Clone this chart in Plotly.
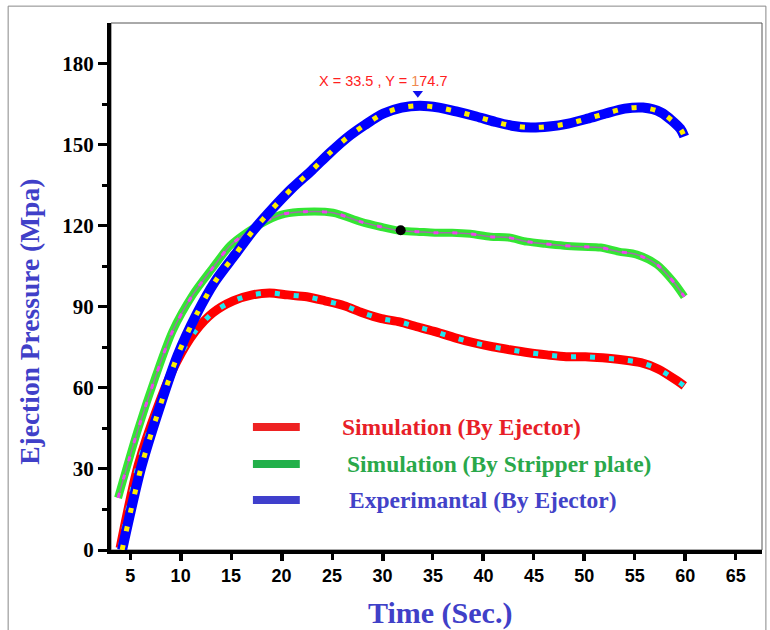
import plotly.graph_objects as go

# ---------------- data ----------------
time_red = [4.0, 5.8, 7.8, 9.6, 11.4, 13.2, 15.2, 17.1, 18.8, 20.6, 22.5, 24.3, 26.2, 28.0,
            29.9, 31.7, 33.4, 35.3, 37.2, 39.0, 40.9, 42.6, 44.5, 46.3, 48.2, 50.1, 51.8,
            53.7, 55.6, 57.3, 59.2, 59.9]
sim_ejector = [0.7, 31.5, 53.7, 69.6, 80.7, 87.8, 92.2, 94.4, 95.1, 94.4, 93.7, 92.2, 90.4,
               87.8, 85.6, 84.4, 82.6, 80.7, 78.5, 76.7, 75.2, 74.1, 73.0, 72.2, 71.5, 71.5,
               71.1, 70.4, 69.3, 67.0, 62.6, 60.7]

time_green = [3.8, 5.7, 7.5, 9.2, 11.2, 13.1, 14.9, 16.7, 18.6, 20.3, 22.3, 25.1, 27.8, 29.8,
              31.7, 33.4, 35.2, 36.9, 38.7, 40.7, 42.5, 44.3, 46.1, 48.0, 49.8, 51.6, 53.4,
              55.2, 57.2, 58.9, 59.9]
sim_stripper = [19.3, 43.7, 64.0, 81.0, 94.4, 104.0, 112.6, 117.8, 122.0, 124.4, 125.2, 124.8,
                121.5, 119.6, 118.1, 117.8, 117.4, 117.4, 117.0, 115.9, 115.6, 114.1, 113.3,
                112.6, 112.2, 111.9, 110.4, 109.3, 105.6, 98.9, 93.7]

time_blue = [4.2, 6.1, 8.0, 9.7, 11.6, 13.4, 15.4, 17.1, 19.1, 21.0, 23.0, 24.8, 26.5, 28.3,
             30.1, 31.9, 33.7, 35.6, 37.4, 39.3, 41.1, 42.8, 44.7, 46.5, 48.4, 50.3, 52.1,
             54.0, 55.8, 57.6, 59.5, 59.9]
exp_ejector = [0.0, 30.7, 53.7, 72.0, 87.4, 99.3, 109.3, 117.8, 126.3, 133.7, 140.5, 147.0,
               152.6, 157.4, 161.5, 163.7, 164.4, 163.7, 162.2, 160.4, 158.5, 157.0, 156.3,
               156.7, 157.8, 159.6, 161.5, 163.3, 163.7, 161.9, 155.9, 153.0]

marker_x = [31.8]
marker_y = [118.3]
arrow_x = [33.5]
arrow_y = [169.0]

x_ticks = [5, 10, 15, 20, 25, 30, 35, 40, 45, 50, 55, 60, 65]
x_major = [10, 20, 30, 40, 50, 60]
y_ticks = [0, 30, 60, 90, 120, 150, 180]

legend_names = ["Simulation (By Ejector)", "Simulation (By Stripper plate)",
                "Experimantal (By Ejector)"]

# ---------------- figure ----------------
fig = go.Figure()

def add_curve(x, y, base_col, base_w, dot_col, dot_w, inner_col=None):
    fig.add_trace(go.Scatter(x=x, y=y, mode="lines", line=dict(color=base_col, width=base_w,
                  shape="spline", smoothing=0.8), hoverinfo="skip", showlegend=False))
    if inner_col:
        fig.add_trace(go.Scatter(x=x, y=y, mode="lines", line=dict(color=inner_col, width=1.5,
                      shape="spline", smoothing=0.8), hoverinfo="skip", showlegend=False))
    fig.add_trace(go.Scatter(x=x, y=y, mode="lines", line=dict(color=dot_col, width=dot_w,
                  shape="spline", smoothing=0.8, dash="5px,14px"), hoverinfo="skip",
                  showlegend=False))

add_curve(time_red, sim_ejector, "#ff0000", 9, "#22e6ee", 5)
add_curve(time_green, sim_stripper, "#33e633", 8, "#ee44ee", 3, inner_col="#a070a8")
add_curve(time_blue, exp_ejector, "#0000ff", 10, "#ffee00", 5)

fig.add_trace(go.Scatter(x=marker_x, y=marker_y, mode="markers",
                         marker=dict(color="black", size=10, symbol="circle"),
                         hoverinfo="skip", showlegend=False))
fig.add_trace(go.Scatter(x=arrow_x, y=arrow_y, mode="markers",
                         marker=dict(color="#1010ee", size=9, symbol="triangle-down"),
                         hoverinfo="skip", showlegend=False))
# invisible trace for the secondary (major tick) axis
fig.add_trace(go.Scatter(x=[x_ticks[0]], y=[0], xaxis="x2", mode="markers",
                         marker=dict(opacity=0), hoverinfo="skip", showlegend=False))

# annotation
fig.add_annotation(x=30.1, y=173.5, xref="x", yref="y", showarrow=False,
                   text="X = 33.5 , Y = <span style='color:#f08a50'>1</span>74.7",
                   font=dict(family="Liberation Sans Narrow, Arial Narrow, Liberation Sans",
                             size=14.5, color="#ff2020"))

serif = "Liberation Serif, Times New Roman, serif"

# legend (manual)
l_cols = ["#ee2222", "#22b04a", "#3f3fcc"]
t_cols = ["#e81e28", "#2aa84a", "#4242c8"]
l_y = [0.2334, 0.1632, 0.0949]
t_x = [0.352, 0.359, 0.3625]
for name, lc, tc, yy, tx in zip(legend_names, l_cols, t_cols, l_y, t_x):
    fig.add_shape(type="line", xref="paper", yref="paper", x0=0.218, x1=0.290, y0=yy, y1=yy,
                  line=dict(color=lc, width=8))
    fig.add_annotation(xref="paper", yref="paper", x=tx, y=yy, xanchor="left",
                       yanchor="middle", showarrow=False, text="<b>%s</b>" % name,
                       font=dict(family=serif, size=23.5, color=tc))

# axis titles
fig.add_annotation(xref="paper", yref="paper", x=0.5055, y=-0.119, xanchor="center",
                   yanchor="middle", showarrow=False, text="<b>Time (Sec.)</b>",
                   font=dict(family=serif, size=30, color="#4040c8"))
fig.add_annotation(xref="paper", yref="paper", x=-0.1244, y=0.433, xanchor="center",
                   yanchor="middle", showarrow=False, textangle=-90,
                   text="<b>Ejection Pressure (Mpa)</b>",
                   font=dict(family=serif, size=27.5, color="#4040c8"))

# frame and outer border
fig.add_shape(type="rect", xref="paper", yref="paper", x0=0, x1=1, y0=0, y1=1,
              line=dict(color="#555555", width=1), layer="below")
fig.add_shape(type="rect", xref="paper", yref="paper", x0=-0.158, x1=1.006, y0=-0.2, y1=1.032,
              line=dict(color="#888888", width=1), layer="below")

fig.update_layout(
    width=770, height=630,
    margin=dict(l=111, r=8, t=23, b=80),
    paper_bgcolor="white", plot_bgcolor="white",
    showlegend=False,
    xaxis=dict(range=[3.1, 67.6], tickvals=x_ticks, ticks="outside", ticklen=6, tickwidth=3,
               tickcolor="black", showline=True, linecolor="black", linewidth=4,
               showgrid=False, zeroline=False,
               tickfont=dict(family="Liberation Sans Narrow, Arial Narrow, Liberation Sans",
                             size=18, color="black", weight="bold")),
    xaxis2=dict(range=[3.1, 67.6], overlaying="x", anchor="y", side="bottom",
                tickvals=x_major, ticks="outside", ticklen=10, tickwidth=4,
                tickcolor="black", showticklabels=False, showline=False, showgrid=False,
                zeroline=False),
    yaxis=dict(range=[0, 195], tickvals=y_ticks, ticks="outside", ticklen=9, tickwidth=3,
               tickcolor="black", showline=True, linecolor="black", linewidth=4,
               showgrid=False, zeroline=False,
               minor=dict(tickvals=[15, 45, 75, 105, 135, 165], ticks="outside", ticklen=5,
                          tickwidth=3, tickcolor="black"),
               tickfont=dict(family=serif, size=21, color="black", weight="bold")),
)

fig.write_html("out.html")
